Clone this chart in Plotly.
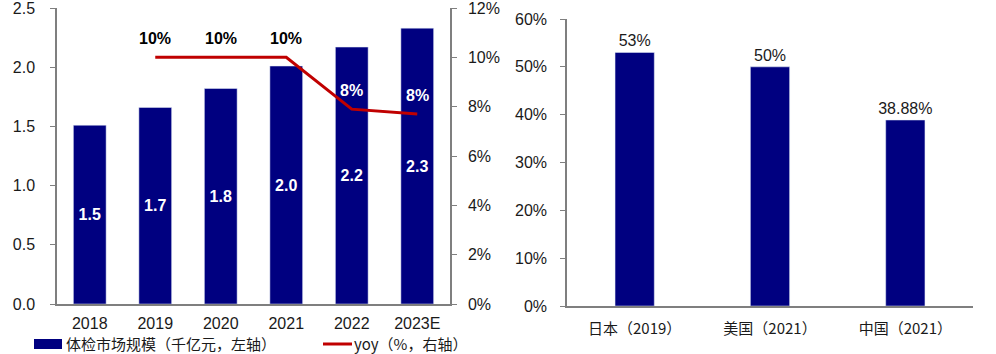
import plotly.graph_objects as go

W, H = 996, 354

# ---- data ----
years = ["2018", "2019", "2020", "2021", "2022", "2023E"]
market_size = [1.51, 1.66, 1.82, 2.01, 2.17, 2.33]          # 千亿元
yoy_years = ["2019", "2020", "2021", "2022", "2023E"]
yoy = [0.10, 0.10, 0.10, 0.079, 0.077]
yoy_labels = ["10%", "10%", "10%", "8%", "8%"]
yoy_label_colors = ["#000000", "#000000", "#000000", "#ffffff", "#ffffff"]

countries = ["日本（2019）", "美国（2021）", "中国（2021）"]
share = [0.53, 0.50, 0.3888]

legend_bar = "体检市场规模（千亿元，左轴）"
legend_line = "yoy（%，右轴）"

NAVY = "#000080"
RED = "#C00000"
AX = "#7f7f7f"
TXT = "#1a1a1a"
FONT = "Liberation Sans, Arial, Noto Sans CJK SC, sans-serif"
CJK = "Noto Sans CJK SC, Liberation Sans, sans-serif"

def px(x):
    return x / W

def py(y):
    return 1 - y / H

fig = go.Figure()

fig.add_trace(go.Bar(
    x=years, y=market_size, marker_color=NAVY, width=0.5,
    texttemplate="%{y:.1f}", textposition="inside", insidetextanchor="middle",
    textangle=0, textfont=dict(color="white", size=16, family=FONT, weight="bold"),
    xaxis="x", yaxis="y", showlegend=False,
))
fig.add_trace(go.Scatter(
    x=yoy_years, y=yoy, mode="lines", line=dict(color=RED, width=3),
    xaxis="x", yaxis="y2", showlegend=False,
))
for xv, yv, lab, col in zip(yoy_years, yoy, yoy_labels, yoy_label_colors):
    fig.add_annotation(x=years.index(xv), y=yv, xref="x", yref="y2", text=lab,
                       showarrow=False, yshift=19,
                       font=dict(color=col, size=16, family=FONT, weight="bold"))

fig.add_trace(go.Bar(
    x=countries, y=share, marker_color=NAVY, width=0.29,
    texttemplate="%{y:.2~%}", textposition="outside", constraintext="none",
    textfont=dict(color=TXT, size=16, family=FONT),
    xaxis="x3", yaxis="y3", showlegend=False, cliponaxis=False,
))

tickfont = dict(size=16, color=TXT, family=FONT)

fig.update_layout(
    width=W, height=H, margin=dict(l=0, r=0, t=0, b=0, autoexpand=False),
    paper_bgcolor="white", plot_bgcolor="white",
    xaxis=dict(type="category", categoryorder="array", categoryarray=years,
               range=[-0.5, len(years) - 0.5],
               domain=[px(57), px(450)], showline=True, linecolor=AX, linewidth=1.5,
               ticks="", tickfont=tickfont, showgrid=False, anchor="y",
               ticklabelstandoff=4, automargin=False),
    yaxis=dict(domain=[py(304), py(8)], range=[0, 2.5], dtick=0.5, tickformat=".1f",
               showline=True, linecolor=AX, linewidth=1.5, ticks="outside", ticklen=5,
               tickcolor=AX, tickfont=tickfont, showgrid=False, zeroline=False,
               ticklabelstandoff=12, anchor="x", automargin=False,
               ticklabeloverflow="allow"),
    yaxis2=dict(overlaying="y", side="right", range=[0, 0.12], dtick=0.02, tickformat=".0%",
                showline=True, linecolor=AX, linewidth=1.5, ticks="outside", ticklen=5,
                tickcolor=AX, tickfont=tickfont, showgrid=False, zeroline=False,
                ticklabelstandoff=8, anchor="x", automargin=False,
                ticklabeloverflow="allow"),
    xaxis3=dict(type="category", range=[-0.5, len(countries) - 0.5],
                domain=[px(567), px(973)], showline=True, linecolor=AX,
                linewidth=1.5, ticks="", tickfont=dict(size=15, color=TXT, family=CJK),
                showgrid=False, anchor="y3", ticklabelstandoff=8, automargin=False),
    yaxis3=dict(domain=[py(306), py(19)], range=[0, 0.6], dtick=0.1, tickformat=".0%",
                showline=True, linecolor=AX, linewidth=1.5, ticks="outside", ticklen=5,
                tickcolor=AX, tickfont=tickfont, showgrid=False, zeroline=False,
                ticklabelstandoff=10, anchor="x3", automargin=False),
    bargap=0.5,
)

# custom legend
fig.add_shape(type="rect", xref="paper", yref="paper",
              x0=px(34), x1=px(62), y0=py(349), y1=py(339),
              fillcolor=NAVY, line=dict(width=0))
fig.add_annotation(xref="paper", yref="paper", x=px(64), y=py(343), xanchor="left",
                   yanchor="middle", text=legend_bar, showarrow=False,
                   font=dict(size=15, color=TXT, family=CJK))
fig.add_shape(type="line", xref="paper", yref="paper",
              x0=px(323), x1=px(352), y0=py(344), y1=py(344),
              line=dict(color=RED, width=3))
fig.add_annotation(xref="paper", yref="paper", x=px(352), y=py(343), xanchor="left",
                   yanchor="middle", text=legend_line, showarrow=False,
                   font=dict(size=15, color=TXT, family=CJK))

fig.write_html("out.html")
